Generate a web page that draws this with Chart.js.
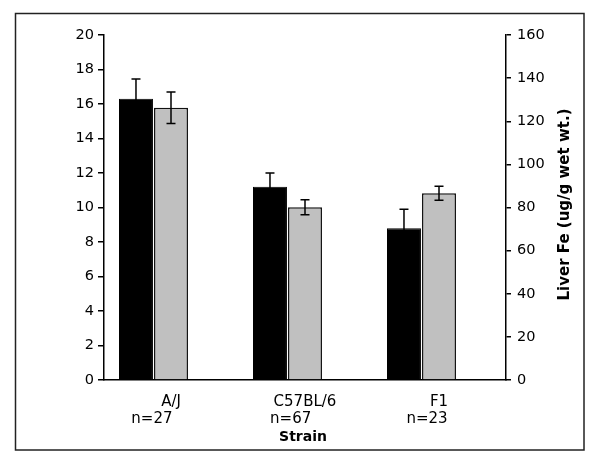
<!DOCTYPE html>
<html>
<head>
<meta charset="utf-8">
<script src="https://cdn.jsdelivr.net/npm/chart.js@4/dist/chart.umd.min.js"></script>
<style>
  body { margin: 0; background: #fff; }
  #wrap { width: 600px; height: 467px; }
</style>
</head>
<body>
<div id="wrap"><canvas id="ironChart"></canvas></div>
<script>
// strains and their sample sizes
const strains = ['A/J', 'C57BL/6', 'F1'];
const counts = [27, 67, 23];

// black bars, left axis
const blackValues = [16.3, 11.2, 8.8];
const blackErr = [1.15, 0.8, 1.1];

// grey bars, right axis: liver Fe (ug/g wet wt.)
const greyValues = [126.3, 80.1, 86.6];
const greyErr = [7.3, 3.5, 3.2];

const leftTicks = [0, 20, 2];    // min, max, step
const rightTicks = [0, 160, 20];

// trailing spaces so the n= line sits a bit left, like the original
const nPad = [8, 6, 5];

const font = 'DejaVu Sans';
Chart.defaults.color = '#000';
Chart.defaults.font.family = font;

// white page + frame around the whole chart
const framePlugin = {
  id: 'frame',
  beforeDraw(chart) {
    const ctx = chart.ctx;
    ctx.save();
    ctx.fillStyle = '#fff';
    ctx.fillRect(0, 0, chart.width, chart.height);
    ctx.restore();
  },
  afterDraw(chart) {
    const ctx = chart.ctx;
    ctx.save();
    ctx.strokeStyle = '#222';
    ctx.lineWidth = 1.5;
    ctx.strokeRect(15.5, 13.5, 568.5, 436.5);

    // axis titles
    const area = chart.chartArea;
    ctx.fillStyle = '#000';
    ctx.textAlign = 'center';
    ctx.textBaseline = 'middle';
    ctx.font = 'bold 14px ' + font;
    ctx.fillText('Strain', (area.left + area.right) / 2 - 2, 437);

    ctx.translate(565, (area.top + area.bottom) / 2 - 3);
    ctx.rotate(-Math.PI / 2);
    ctx.font = 'bold 15px ' + font;
    ctx.fillText('Liver Fe (ug/g wet wt.)', 0, 0);
    ctx.restore();
  }
};

// error bars drawn from the bar elements and their own y scale
const errorBarPlugin = {
  id: 'errorBars',
  afterDatasetsDraw(chart) {
    const ctx = chart.ctx;
    ctx.save();
    ctx.strokeStyle = '#000';
    ctx.lineWidth = 1.5;
    chart.data.datasets.forEach(function(ds, i) {
      if (!ds.errors) return;
      const meta = chart.getDatasetMeta(i);
      const scale = chart.scales[meta.yAxisID];
      meta.data.forEach(function(bar, j) {
        const v = ds.data[j];
        const e = ds.errors[j];
        const yTop = scale.getPixelForValue(v + e);
        const yBot = scale.getPixelForValue(v - e);
        const x = bar.x;
        ctx.beginPath();
        ctx.moveTo(x, yTop);
        ctx.lineTo(x, yBot);
        ctx.moveTo(x - 4.5, yTop);
        ctx.lineTo(x + 4.5, yTop);
        ctx.moveTo(x - 4.5, yBot);
        ctx.lineTo(x + 4.5, yBot);
        ctx.stroke();
      });
    });
    ctx.restore();
  }
};

const ctx = document.getElementById('ironChart').getContext('2d');
const ironChart = new Chart(ctx, {
  type: 'bar',
  data: {
    labels: strains,
    datasets: [
      {
        label: 'black',
        data: blackValues,
        errors: blackErr,
        yAxisID: 'y',
        backgroundColor: '#000',
        borderColor: '#000',
        borderWidth: 1,
        barPercentage: 0.97
      },
      {
        label: 'grey',
        data: greyValues,
        errors: greyErr,
        yAxisID: 'y1',
        backgroundColor: '#c0c0c0',
        borderColor: '#111',
        borderWidth: 1.5,
        barPercentage: 0.97
      },
      {
        // empty slot, keeps the pair left of centre as in the original
        label: '',
        data: [null, null, null],
        yAxisID: 'y'
      }
    ]
  },
  options: {
    responsive: true,
    maintainAspectRatio: false,
    animation: false,
    categoryPercentage: 0.784,
    barPercentage: 1.0,
    layout: { padding: { top: 35, left: 0, right: 0, bottom: 0 } },
    plugins: {
      legend: { display: false },
      tooltip: { enabled: false }
    },
    scales: {
      x: {
        grid: { display: false, drawTicks: false },
        border: { display: true, color: '#000', width: 1.5 },
        ticks: {
          padding: 13,
          font: { size: 15, lineHeight: 1.17 },
          callback: function(value, index) {
            return [strains[index], 'n=' + counts[index] + ' '.repeat(nPad[index])];
          }
        },
        afterFit: function(scale) { scale.height = 87; }
      },
      y: {
        position: 'left',
        min: leftTicks[0],
        max: leftTicks[1],
        ticks: { stepSize: leftTicks[2], padding: 4, font: { size: 14.5 } },
        grid: { drawOnChartArea: false, drawTicks: true, tickLength: 6, color: '#000', lineWidth: 1.5 },
        border: { display: true, color: '#000', width: 1.5 },
        afterFit: function(scale) { scale.width = 104; }
      },
      y1: {
        position: 'right',
        min: rightTicks[0],
        max: rightTicks[1],
        ticks: { stepSize: rightTicks[2], padding: 6, font: { size: 14.5 } },
        grid: { drawOnChartArea: false, drawTicks: true, tickLength: 5, color: '#000', lineWidth: 1.5 },
        border: { display: true, color: '#000', width: 1.5 },
        afterFit: function(scale) { scale.width = 94; }
      }
    }
  },
  plugins: [framePlugin, errorBarPlugin]
});
</script>
</body>
</html>
